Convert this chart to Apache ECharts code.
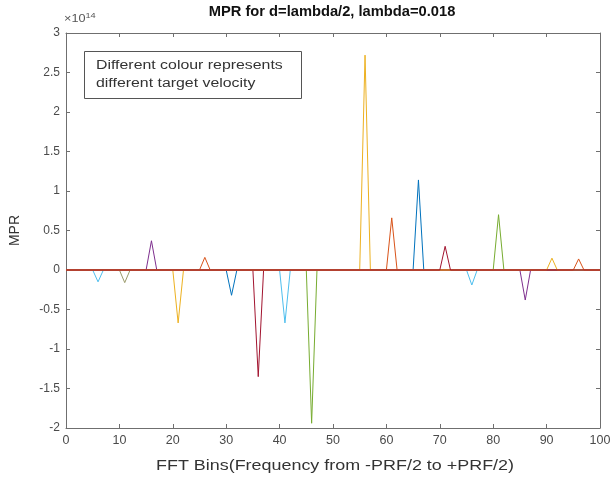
<!DOCTYPE html>
<html>
<head>
<meta charset="utf-8">
<script src="https://cdn.jsdelivr.net/npm/echarts@6/dist/echarts.min.js"></script>
<style>html,body{margin:0;padding:0;background:#fff}#c{width:616px;height:481px}</style>
</head>
<body>
<div id="c"></div>
<script>
// Peak bins, peak values (x 1e14) and colours
const peakBins   = [6, 11, 16, 21, 26, 31, 36, 41, 46, 56, 61, 66, 71, 76, 81, 86, 91, 96];
const peakValues = [-0.15, -0.16, 0.37, -0.67, 0.16, -0.32, -1.35, -0.67, -1.94, 2.72, 0.66, 1.14, 0.30, -0.19, 0.70, -0.38, 0.15, 0.14];
const peakColors = ['#4DBEEE', '#9a9a6a', '#7E2F8E', '#EDB120', '#D95319', '#0072BD', '#A2142F', '#4DBEEE', '#77AC30',
                    '#EDB120', '#D95319', '#0072BD', '#A2142F', '#4DBEEE', '#77AC30', '#7E2F8E', '#EDB120', '#D95319'];
const xTicks = [0, 10, 20, 30, 40, 50, 60, 70, 80, 90, 100];
const yTicks = [-2, -1.5, -1, -0.5, 0, 0.5, 1, 1.5, 2, 2.5, 3];
const xMin = 0, xMax = 100, yMin = -2, yMax = 3;
const titleText = 'MPR for d=lambda/2, lambda=0.018';
const xName = 'FFT Bins(Frequency from -PRF/2 to +PRF/2)';
const yName = 'MPR';
const noteText = 'Different colour represents\ndifferent target velocity';

const topIndex = 12; // dark red series drawn last (its zero line shows on top)
const series = peakBins.map((b, i) => ({
  type: 'line',
  data: [[xMin, 0], [b - 1, 0], [b, peakValues[i]], [b + 1, 0], [xMax, 0]],
  symbol: 'none',
  lineStyle: { color: peakColors[i], width: 1 },
  z: i === topIndex ? 40 : 2 + i,
  animation: false
}));

const fam = 'Liberation Sans, Arial, sans-serif';
const axColor = '#6f6f6f';
function ax(extra) {
  return Object.assign({
    type: 'value',
    axisLine: { show: true, onZero: false, lineStyle: { color: axColor, width: 1 } },
    axisTick: { show: true, inside: true, length: 4, lineStyle: { color: axColor } },
    splitLine: { show: false }
  }, extra);
}
const chart = echarts.init(document.getElementById('c'));
chart.setOption({
  animation: false,
  backgroundColor: '#fff',
  grid: { left: 64, right: 16, top: 33, bottom: 53 },
  xAxis: [
    ax({ min: xMin, max: xMax, interval: 10, position: 'bottom',
      axisLabel: { fontFamily: fam, fontSize: 12.5, color: '#4a4a4a', margin: 6,
        formatter: v => xTicks.includes(v) ? String(v) : '' } }),
    ax({ min: xMin, max: xMax, interval: 10, position: 'top', axisLabel: { show: false } })
  ],
  yAxis: [
    ax({ min: yMin, max: yMax, interval: 0.5, position: 'left',
      name: yName, nameLocation: 'middle', nameGap: 44, nameRotate: 90,
      nameTextStyle: { fontFamily: fam, fontSize: 14, color: '#333' },
      axisLabel: { fontFamily: fam, fontSize: 12, color: '#4a4a4a', margin: 6,
        formatter: v => yTicks.includes(v) ? String(v) : '' } }),
    ax({ min: yMin, max: yMax, interval: 0.5, position: 'right', axisLabel: { show: false } })
  ],
  graphic: [
    {
      type: 'text', x: 332, y: 12, scaleX: 1.05,
      style: { text: titleText, fontFamily: fam, fontSize: 14, fontWeight: 'bold', fill: '#111',
        align: 'center', verticalAlign: 'middle' },
      z: 100
    },
    {
      type: 'text', x: 335, y: 466, scaleX: 1.28,
      style: { text: xName, fontFamily: fam, fontSize: 14, fill: '#333',
        align: 'center', verticalAlign: 'middle' },
      z: 100
    },
    {
      type: 'text', x: 64, y: 19, scaleX: 1.15,
      style: {
        text: '{a|×10}{b|14}',
        align: 'left', verticalAlign: 'middle',
        rich: {
          a: { fontFamily: fam, fontSize: 11, fill: '#555' },
          b: { fontFamily: fam, fontSize: 8, fill: '#555', padding: [0, 0, 7, 0] }
        }
      },
      z: 100
    },
    {
      type: 'rect', shape: { x: 84.5, y: 51.5, width: 217, height: 47 },
      style: { fill: '#fff', stroke: '#555', lineWidth: 1 }, z: 100
    },
    {
      type: 'text', x: 96, y: 75, scaleX: 1.27,
      style: { text: noteText, fontFamily: fam, fontSize: 12.5, lineHeight: 18, fill: '#333',
        align: 'left', verticalAlign: 'middle' },
      z: 101
    }
  ],
  series: series
});
</script>
</body>
</html>
